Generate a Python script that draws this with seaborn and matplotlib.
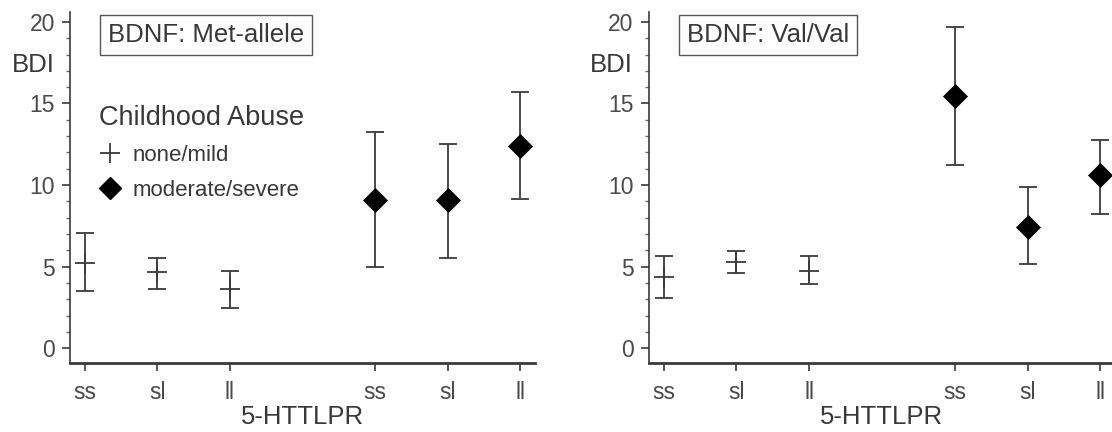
import matplotlib
matplotlib.use("Agg")
import matplotlib.pyplot as plt
from matplotlib.lines import Line2D
from matplotlib.ticker import MultipleLocator
import numpy as np
import pandas as pd
import seaborn as sns

# Data (BDI mean and error bar ends)
genotypes = ["ss", "sl", "ll"]
abuse_levels = ["none/mild", "moderate/severe"]
panels = ["BDNF: Met-allele", "BDNF: Val/Val"]

met_none_mean = [5.25, 4.65, 3.65]
met_none_lo = [3.5, 3.65, 2.45]
met_none_hi = [7.05, 5.55, 4.75]
met_mod_mean = [9.1, 9.1, 12.4]
met_mod_lo = [5.0, 5.55, 9.15]
met_mod_hi = [13.25, 12.5, 15.7]

val_none_mean = [4.35, 5.3, 4.75]
val_none_lo = [3.05, 4.6, 3.95]
val_none_hi = [5.65, 5.95, 5.65]
val_mod_mean = [15.45, 7.45, 10.6]
val_mod_lo = [11.2, 5.15, 8.25]
val_mod_hi = [19.7, 9.9, 12.75]

# Build a long table
rows = []
series = {
    (panels[0], abuse_levels[0]): (met_none_mean, met_none_lo, met_none_hi),
    (panels[0], abuse_levels[1]): (met_mod_mean, met_mod_lo, met_mod_hi),
    (panels[1], abuse_levels[0]): (val_none_mean, val_none_lo, val_none_hi),
    (panels[1], abuse_levels[1]): (val_mod_mean, val_mod_lo, val_mod_hi),
}
for (panel, abuse), (m, lo, hi) in series.items():
    a = abuse_levels.index(abuse)
    for g, (mv, lv, hv) in enumerate(zip(m, lo, hi)):
        rows.append(dict(panel=panel, abuse=abuse, genotype=genotypes[g],
                         x=a * 4 + g, bdi=mv, lo=lv, hi=hv))
df = pd.DataFrame(rows)

sns.set_theme(style="ticks")
plt.rcParams["font.family"] = ["Liberation Sans", "DejaVu Sans"]

TXT = "#383838"
LINE = "#3a3a3a"

fig = plt.figure(figsize=(11.12, 4.32), dpi=100)
ax_pos = [[0.063, 0.16, 0.418, 0.812], [0.5836, 0.16, 0.419, 0.812]]

for i, panel in enumerate(panels):
    ax = fig.add_axes(ax_pos[i])
    sub = df[df["panel"] == panel]

    ax.errorbar(sub["x"], sub["bdi"],
                yerr=[sub["bdi"] - sub["lo"], sub["hi"] - sub["bdi"]],
                fmt="none", ecolor=LINE, elinewidth=1.3, capsize=6.5,
                capthick=1.3, zorder=2)

    none = sub[sub["abuse"] == "none/mild"]
    mod = sub[sub["abuse"] == "moderate/severe"]
    sns.scatterplot(data=none, x="x", y="bdi", marker="+", s=200,
                    color=LINE, linewidth=1.3, ax=ax, zorder=3, legend=False)
    sns.scatterplot(data=mod, x="x", y="bdi", marker="D", s=150,
                    color="black", edgecolor="black", linewidth=0.5,
                    ax=ax, zorder=3, legend=False)

    ax.set_xlim(-0.2, 6.2)
    ax.set_ylim(-0.9, 20.6)
    ax.set_xticks(sorted(df["x"].unique()))
    ax.set_xticklabels(genotypes * 2)
    ax.set_yticks([0, 5, 10, 15, 20])
    ax.yaxis.set_minor_locator(MultipleLocator(1))

    for s in ["top", "right"]:
        ax.spines[s].set_visible(False)
    ax.spines["left"].set_linewidth(1.2)
    ax.spines["left"].set_color(LINE)
    ax.spines["bottom"].set_linewidth(2.0)
    ax.spines["bottom"].set_color(LINE)

    ax.tick_params(axis="both", which="major", length=6, width=1.2,
                   color=LINE, labelsize=16.5, labelcolor="#4a4a4a", pad=5)
    ax.tick_params(axis="x", which="major", pad=7)
    ax.tick_params(axis="y", which="minor", length=3, width=1.0, color="#666666")
    ax.tick_params(axis="x", which="minor", length=0)

    ax.set_xlabel("5-HTTLPR", fontsize=18.5, color=TXT, labelpad=1)
    ax.set_ylabel("BDI", fontsize=18.5, color=TXT, rotation=0, ha="center", va="center")
    ax.yaxis.set_label_coords(-0.08, 0.85)

    ax.text(0.082, 0.935, panel, transform=ax.transAxes, fontsize=18.5,
            color=TXT, ha="left", va="center",
            bbox=dict(boxstyle="square,pad=0.3", fc="white", ec="#555555", lw=1.0))

    if i == 0:
        handles = [
            Line2D([], [], marker="+", linestyle="none", color=LINE,
                   markersize=14, markeredgewidth=1.3),
            Line2D([], [], marker="D", linestyle="none", color="black",
                   markersize=11.5),
        ]
        leg = ax.legend(handles, abuse_levels, title="Childhood Abuse",
                        loc="upper left", bbox_to_anchor=(0.062, 0.735),
                        frameon=False, fontsize=16, title_fontsize=19.5,
                        handlelength=1.0, handletextpad=0.5, labelspacing=0.62,
                        borderpad=0, borderaxespad=0, alignment="left")
        for t in leg.get_texts():
            t.set_color(TXT)
        leg.get_title().set_color(TXT)

fig.savefig("out.png", dpi=100)
